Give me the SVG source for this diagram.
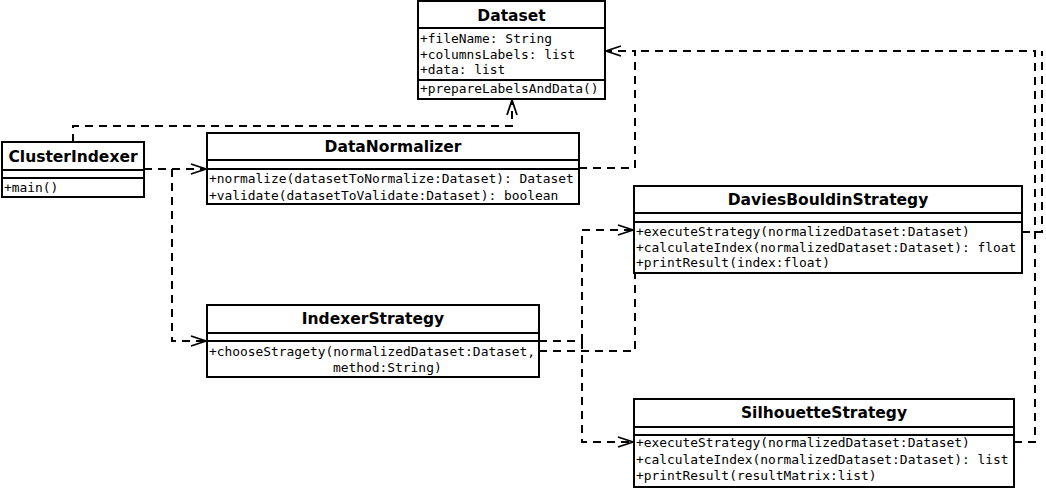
<svg xmlns="http://www.w3.org/2000/svg" width="1046" height="489" viewBox="0 0 1046 489">
<style>
.box{fill:#fff;stroke:#000;stroke-width:2}
.div{stroke:#000;stroke-width:2}
.title{font-family:"DejaVu Sans",sans-serif;font-weight:bold;font-size:15.5px;text-anchor:middle;fill:#000}
.mono{font-family:"DejaVu Sans Mono","Liberation Mono",monospace;font-size:12.9px;fill:#000}
.dep{fill:none;stroke:#000;stroke-width:2;stroke-dasharray:8 6}
</style>
<defs>
<marker id="open" markerWidth="18" markerHeight="14" refX="16" refY="7" orient="auto" markerUnits="userSpaceOnUse" viewBox="0 0 18 14">
<path d="M1,2 L16,7 L1,12" fill="none" stroke="#000" stroke-width="1.8" stroke-dasharray="none"/>
</marker>
</defs>
<rect width="1046" height="489" fill="#fff"/>
<g id="connectors">
<path class="dep" d="M73,142 V126 H512 V100" marker-end="url(#open)"/>
<path class="dep" d="M144,169 H206" marker-end="url(#open)"/>
<path class="dep" d="M172,169 V341 H206" marker-end="url(#open)"/>
<path class="dep" d="M579,168 H635 V51 H606" marker-end="url(#open)"/>
<path class="dep" d="M1022,232 H1042 V51"/>
<path class="dep" d="M1014,442 H1035 V51 H635"/>
<path class="dep" d="M539,341 H582 V230 H633" marker-end="url(#open)"/>
<path class="dep" d="M582,341 V442 H633" marker-end="url(#open)"/>
<path class="dep" d="M539,351 H635 V273"/>
</g>
<g id="Dataset">
<rect class="box" x="418" y="1" width="187" height="98"/>
<line class="div" x1="418" y1="28" x2="605" y2="28"/>
<line class="div" x1="418" y1="80" x2="605" y2="80"/>
<text class="title" x="511.5" y="20.5">Dataset</text>
<text class="mono" x="420" y="43">+fileName: String</text>
<text class="mono" x="420" y="58.5">+columnsLabels: list</text>
<text class="mono" x="420" y="74">+data: list</text>
<text class="mono" x="420" y="93">+prepareLabelsAndData()</text>
</g>
<g id="ClusterIndexer">
<rect class="box" x="2" y="142" width="142" height="55"/>
<line class="div" x1="2" y1="170" x2="144" y2="170"/>
<line class="div" x1="2" y1="178" x2="144" y2="178"/>
<text class="title" x="73" y="161.5">ClusterIndexer</text>
<text class="mono" x="4" y="191.5">+main()</text>
</g>
<g id="DataNormalizer">
<rect class="box" x="207" y="133" width="372" height="71"/>
<line class="div" x1="207" y1="160" x2="579" y2="160"/>
<line class="div" x1="207" y1="169" x2="579" y2="169"/>
<text class="title" x="393" y="152">DataNormalizer</text>
<text class="mono" x="209" y="182.5">+normalize(datasetToNormalize:Dataset): Dataset</text>
<text class="mono" x="209" y="199.5">+validate(datasetToValidate:Dataset): boolean</text>
</g>
<g id="IndexerStrategy">
<rect class="box" x="207" y="305" width="332" height="72"/>
<line class="div" x1="207" y1="333" x2="539" y2="333"/>
<line class="div" x1="207" y1="341" x2="539" y2="341"/>
<text class="title" x="373" y="324">IndexerStrategy</text>
<text class="mono" x="209" y="356">+chooseStragety(normalizedDataset:Dataset,</text>
<text class="mono" x="333" y="372">method:String)</text>
</g>
<g id="DaviesBouldinStrategy">
<rect class="box" x="634" y="186" width="388" height="87"/>
<line class="div" x1="634" y1="213" x2="1022" y2="213"/>
<line class="div" x1="634" y1="222" x2="1022" y2="222"/>
<text class="title" x="828" y="205">DaviesBouldinStrategy</text>
<text class="mono" x="636" y="236">+executeStrategy(normalizedDataset:Dataset)</text>
<text class="mono" x="636" y="251.5">+calculateIndex(normalizedDataset:Dataset): float</text>
<text class="mono" x="636" y="266.5">+printResult(index:float)</text>
</g>
<g id="SilhouetteStrategy">
<rect class="box" x="634" y="399" width="380" height="88"/>
<line class="div" x1="634" y1="427" x2="1014" y2="427"/>
<line class="div" x1="634" y1="435" x2="1014" y2="435"/>
<text class="title" x="824" y="418">SilhouetteStrategy</text>
<text class="mono" x="636" y="447">+executeStrategy(normalizedDataset:Dataset)</text>
<text class="mono" x="636" y="463.5">+calculateIndex(normalizedDataset:Dataset): list</text>
<text class="mono" x="636" y="479.5">+printResult(resultMatrix:list)</text>
</g>
</svg>
